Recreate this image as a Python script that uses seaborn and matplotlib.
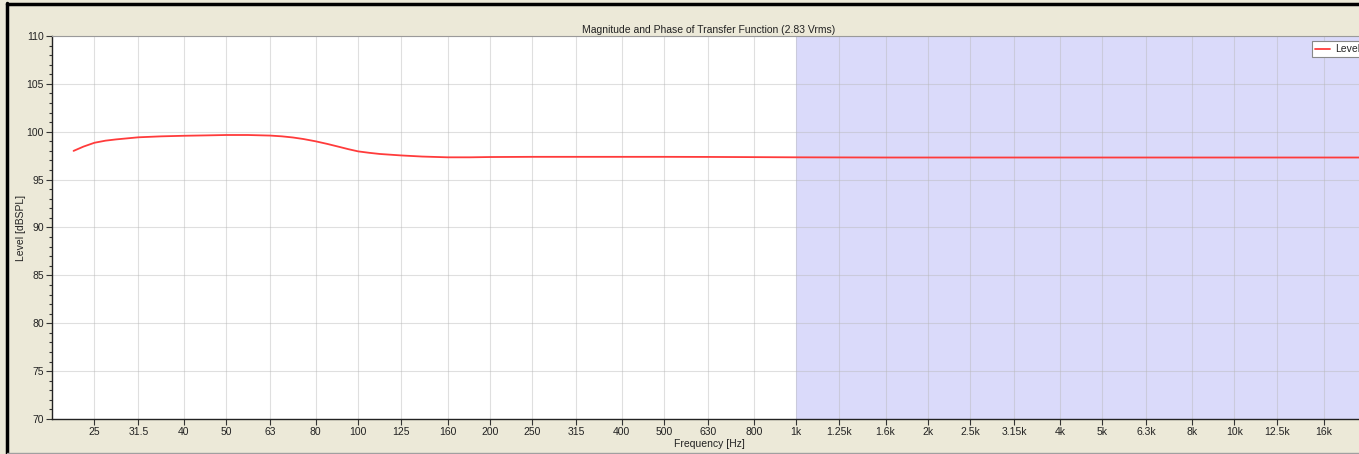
import matplotlib
matplotlib.use("Agg")
import matplotlib.pyplot as plt
import seaborn as sns
import pandas as pd
from matplotlib.lines import Line2D

# ---- data ----
freq_hz = [22.4, 23.6, 25, 26.5, 28, 31.5, 35.5, 40, 45, 50, 56, 63, 67, 71, 75, 80, 85,
           90, 95, 100, 106, 112, 125, 140, 160, 180, 200, 250, 315, 400, 500, 630, 800,
           1000, 1250, 1600, 2000, 2500, 3150, 4000, 5000, 6300, 8000, 10000, 12500,
           16000, 20000]
level_db = [98.0, 98.45, 98.85, 99.07, 99.2, 99.42, 99.52, 99.58, 99.62, 99.66, 99.66,
            99.6, 99.52, 99.4, 99.24, 99.0, 98.73, 98.45, 98.18, 97.95, 97.8, 97.68,
            97.53, 97.41, 97.33, 97.33, 97.36, 97.38, 97.38, 97.38, 97.38, 97.37, 97.35,
            97.33, 97.32, 97.31, 97.31, 97.31, 97.31, 97.31, 97.31, 97.31, 97.31, 97.31,
            97.31, 97.31, 97.31]
tick_freqs = [25, 31.5, 40, 50, 63, 80, 100, 125, 160, 200, 250, 315, 400, 500, 630,
              800, 1000, 1250, 1600, 2000, 2500, 3150, 4000, 5000, 6300, 8000, 10000,
              12500, 16000]
tick_labels = ["25", "31.5", "40", "50", "63", "80", "100", "125", "160", "200", "250",
               "315", "400", "500", "630", "800", "1k", "1.25k", "1.6k", "2k", "2.5k",
               "3.15k", "4k", "5k", "6.3k", "8k", "10k", "12.5k", "16k"]
y_ticks = [70, 75, 80, 85, 90, 95, 100, 105, 110]
shade_start = 1000
x_min, x_max = 20, 20000

df = pd.DataFrame({"Frequency": freq_hz, "Level": level_db})

sns.set_style("white")
plt.rcParams["font.family"] = ["Liberation Sans", "DejaVu Sans"]
plt.rcParams["font.size"] = 7.5

W, H = 1359, 454
fig = plt.figure(figsize=(W / 100, H / 100), dpi=100)
fig.patch.set_facecolor("#ECE9D8")

ax = fig.add_axes([52 / W, 35 / H, (1366 - 52) / W, (419 - 36) / H])
ax.set_facecolor("white")

ax.axvspan(shade_start, x_max, color="#DADAFA", zorder=0, lw=0)

sns.lineplot(data=df, x="Frequency", y="Level", ax=ax, color="#FF3B3B", lw=1.3,
             label="Level", zorder=3)

ax.set_xscale("log")
ax.set_xlim(x_min, x_max)
ax.set_ylim(70, 110)
ax.set_xticks(tick_freqs)
ax.set_xticklabels(tick_labels)
ax.minorticks_off()
ax.set_yticks(y_ticks)
ax.set_yticks(range(70, 111), minor=True)
ax.tick_params(axis="both", which="major", direction="out", length=4, width=0.8,
               color="#333333", labelsize=7.5, labelcolor="#222222", pad=2,
               bottom=True, left=True)
ax.tick_params(axis="y", which="minor", direction="out", length=2.5, width=0.8,
               color="#333333", left=True)
ax.tick_params(axis="x", which="minor", bottom=False)

ax.grid(True, which="major", color="#B8B8B8", alpha=0.45, lw=0.8, zorder=1)
ax.set_axisbelow(True)

for s in ["left", "bottom"]:
    ax.spines[s].set_color("#222222")
    ax.spines[s].set_linewidth(1.0)
for s in ["top", "right"]:
    ax.spines[s].set_color("#9A9A9A")
    ax.spines[s].set_linewidth(0.8)

ax.set_xlabel("Frequency [Hz]", fontsize=7.5, labelpad=1, color="#222222")
ax.set_ylabel("Level [dBSPL]", fontsize=7.5, labelpad=0, color="#222222")
ax.set_title("Magnitude and Phase of Transfer Function (2.83 Vrms)", fontsize=7.5,
             pad=2, color="#222222")

leg = ax.legend(loc="upper right", bbox_to_anchor=(1.0, 0.995), fontsize=7.5,
                frameon=True, fancybox=False, handlelength=1.5, handletextpad=0.4,
                borderpad=0.3, borderaxespad=0.3)
leg.get_frame().set_edgecolor("#888888")
leg.get_frame().set_linewidth(0.8)
leg.get_frame().set_facecolor("white")
leg.get_frame().set_alpha(1.0)

# window border lines
fig.add_artist(Line2D([7 / W, 7 / W], [0, 1 - 3 / H], transform=fig.transFigure,
                      color="black", lw=2.5))
fig.add_artist(Line2D([7 / W, 1], [1 - 4 / H, 1 - 4 / H], transform=fig.transFigure,
                      color="black", lw=2.5))
fig.add_artist(Line2D([7 / W, 1], [1.5 / H, 1.5 / H], transform=fig.transFigure,
                      color="#A0A0A0", lw=1))

fig.savefig("out.png", dpi=100, facecolor=fig.get_facecolor())
